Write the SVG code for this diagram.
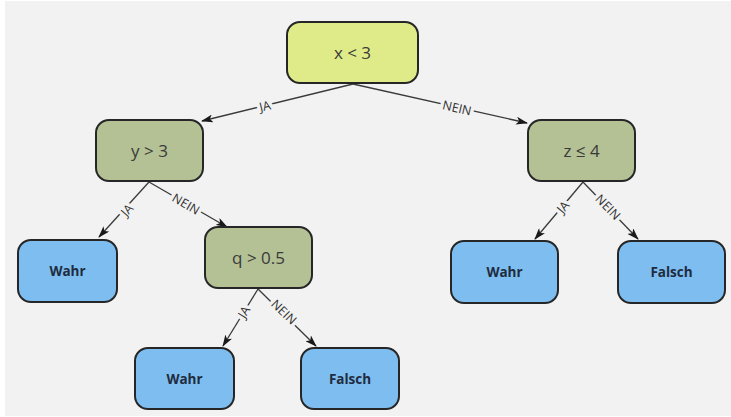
<svg xmlns="http://www.w3.org/2000/svg" width="731" height="417" viewBox="0 0 731 417">
  <defs>
    <marker id="arrow" viewBox="0 0 12 8" refX="11" refY="4" markerWidth="12" markerHeight="8" markerUnits="userSpaceOnUse" orient="auto">
      <path d="M0,0 L12,4 L0,8 L3,4 Z" fill="#1a1a1a"/>
    </marker>
    <style>
      .node rect { stroke: #262626; stroke-width: 2; }
      .root rect { fill: #dfeb88; }
      .test rect { fill: #b3c195; }
      .leaf rect { fill: #7dbdef; }
      .cond { font-family: "Open Sans", "DejaVu Sans", sans-serif; font-size: 17px; fill: #3a3a3a; text-anchor: middle; dominant-baseline: central; }
      .res { font-family: "Open Sans", "DejaVu Sans", sans-serif; font-size: 13.5px; font-weight: bold; fill: #1f2b40; text-anchor: middle; dominant-baseline: central; }
      .edge { stroke: #3a3a3a; stroke-width: 1.3; fill: none; marker-end: url(#arrow); }
      .lbl { font-family: "Open Sans", "DejaVu Sans", sans-serif; font-size: 12.5px; fill: #333; text-anchor: middle; dominant-baseline: central; paint-order: stroke; stroke: #f2f2f2; stroke-width: 7px; stroke-linejoin: round; }
    </style>
  </defs>

  <!-- canvas -->
  <rect x="0" y="0" width="731" height="417" fill="#ffffff"/>
  <rect x="5" y="1" width="726" height="415" fill="#f2f2f2"/>

  <!-- connectors -->
  <g id="connectors">
    <line class="edge" x1="353" y1="84" x2="202" y2="121"/>
    <line class="edge" x1="353" y1="84" x2="527" y2="123"/>
    <line class="edge" x1="149" y1="182" x2="99" y2="237"/>
    <line class="edge" x1="149" y1="182" x2="227" y2="227"/>
    <line class="edge" x1="258" y1="289" x2="223" y2="346"/>
    <line class="edge" x1="258" y1="289" x2="316" y2="346"/>
    <line class="edge" x1="583" y1="182" x2="535" y2="239"/>
    <line class="edge" x1="583" y1="182" x2="638" y2="239"/>

    <text class="lbl" transform="translate(265,106) rotate(-13.5)">JA</text>
    <text class="lbl" transform="translate(457,108) rotate(13)">NEIN</text>
    <text class="lbl" transform="translate(127,210) rotate(-48)">JA</text>
    <text class="lbl" transform="translate(186,204) rotate(30)">NEIN</text>
    <text class="lbl" transform="translate(244,312) rotate(-58)">JA</text>
    <text class="lbl" transform="translate(284,312) rotate(44)">NEIN</text>
    <text class="lbl" transform="translate(563,207) rotate(-50)">JA</text>
    <text class="lbl" transform="translate(608,207) rotate(46)">NEIN</text>
  </g>

  <!-- decision nodes -->
  <g id="node-root" class="node root">
    <rect x="287" y="22" width="131" height="61" rx="13"/>
    <text class="cond" x="352.5" y="52.5">x &lt; 3</text>
  </g>
  <g id="node-y" class="node test">
    <rect x="96" y="120" width="107" height="61" rx="13"/>
    <text class="cond" x="149.5" y="150.5">y &gt; 3</text>
  </g>
  <g id="node-z" class="node test">
    <rect x="528" y="120" width="107" height="61" rx="13"/>
    <text class="cond" x="581.5" y="150.5">z ≤ 4</text>
  </g>
  <g id="node-q" class="node test">
    <rect x="205" y="227" width="107" height="61" rx="13"/>
    <text class="cond" x="258.5" y="257.5">q &gt; 0.5</text>
  </g>

  <!-- leaves -->
  <g id="leaf-y-ja" class="node leaf">
    <rect x="18" y="240" width="99" height="62" rx="13"/>
    <text class="res" x="67.5" y="271">Wahr</text>
  </g>
  <g id="leaf-q-ja" class="node leaf">
    <rect x="135" y="348" width="99" height="61" rx="13"/>
    <text class="res" x="184.5" y="378.5">Wahr</text>
  </g>
  <g id="leaf-q-nein" class="node leaf">
    <rect x="301" y="348" width="98" height="61" rx="13"/>
    <text class="res" x="350" y="378.5">Falsch</text>
  </g>
  <g id="leaf-z-ja" class="node leaf">
    <rect x="451" y="241" width="107" height="62" rx="13"/>
    <text class="res" x="504.5" y="272">Wahr</text>
  </g>
  <g id="leaf-z-nein" class="node leaf">
    <rect x="618" y="241" width="107" height="62" rx="13"/>
    <text class="res" x="671.5" y="272">Falsch</text>
  </g>
</svg>
